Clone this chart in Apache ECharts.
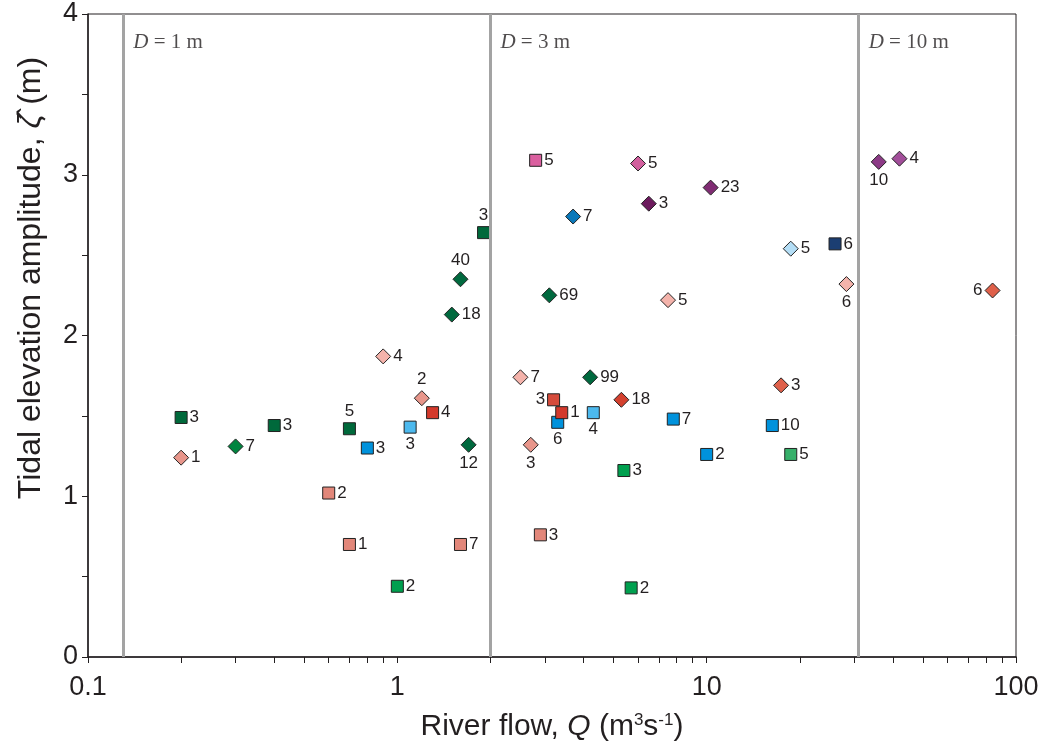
<!DOCTYPE html>
<html>
<head>
<meta charset="utf-8">
<script src="https://cdn.jsdelivr.net/npm/echarts@6/dist/echarts.min.js"></script>
<style>
  html, body { margin: 0; background: #fff; }
  #chart { width: 1047px; height: 750px; }
</style>
</head>
<body>
<div id="chart"></div>
<script>
// river flow Q (m3/s) and tidal amplitude (m) for each site, with its count label and site group
const flowQ = [0.8, 3.3, 7.8, 16.3, 10, 1.1, 4.3, 3.7, 18.7, 26,
  0.2, 0.4, 0.7, 1.9, 1.6, 1.5, 1.7, 3.1, 4.2, 0.3,
  1.0, 5.4, 5.7, 18.7, 0.6, 0.7, 1.6, 2.9, 0.2, 1.2,
  2.7, 0.9, 2.5, 7.5, 28.3, 1.3, 3.2, 3.4, 5.3, 17.4,
  84, 2.8, 6.0, 6.5, 10.3, 36, 42];
const amplitude = [1.30, 1.46, 1.48, 1.44, 1.26, 1.43, 1.52, 2.74, 2.54, 2.57,
  1.49, 1.44, 1.42, 2.64, 2.35, 2.13, 1.32, 2.25, 1.74, 1.31,
  0.44, 1.16, 0.43, 1.26, 1.02, 0.70, 0.70, 0.76, 1.24, 1.61,
  1.32, 1.87, 1.74, 2.22, 2.32, 1.52, 1.60, 1.52, 1.60, 1.69,
  2.28, 3.09, 3.07, 2.82, 2.92, 3.08, 3.10];
const pointLabels = ['3', '6', '7', '10', '2', '3', '4', '7', '5', '6',
  '3', '3', '5', '3', '40', '18', '12', '69', '99', '7',
  '2', '3', '2', '5', '2', '1', '7', '3', '1', '2',
  '3', '4', '7', '5', '6', '4', '3', '1', '18', '3',
  '6', '5', '5', '3', '23', '10', '4'];
const siteGroup = ['blueSq', 'blueSq', 'blueSq', 'blueSq', 'blueSq', 'ltBlueSq', 'ltBlueSq', 'blueDia', 'paleBlueDia', 'navySq',
  'dkGreenSq', 'dkGreenSq', 'dkGreenSq', 'dkGreenSq', 'dkGreenDia', 'dkGreenDia', 'dkGreenDia', 'dkGreenDia', 'dkGreenDia', 'greenDia',
  'greenSq', 'greenSq', 'greenSq', 'ltGreenSq', 'salmonSq', 'salmonSq', 'salmonSq', 'salmonSq', 'salmonDia', 'salmonDia',
  'salmonDia', 'paleSalmonDia', 'paleSalmonDia', 'paleSalmonDia', 'paleSalmonDia', 'redSq', 'redSq2', 'redSq', 'redDia', 'orangeDia',
  'orangeDia', 'pinkSq', 'pinkDia', 'dkPurpleDia', 'purpleDia', 'magentaDia', 'ltMagentaDia'];

// depth zones: boundary flows and depth labels
const depthLineQ = [0.13, 2.0, 31];
const depthValues = ['1', '3', '10'];

// axis ticks
const xTickValues = [0.1, 0.2, 0.3, 0.4, 0.5, 0.6, 0.7, 0.8, 0.9,
  1, 2, 3, 4, 5, 6, 7, 8, 9,
  10, 20, 30, 40, 50, 60, 70, 80, 90, 100];
const xLabelValues = [0.1, 1, 10, 100];

// styles (kept apart from the data)
const groupStyle = {
  blueSq: { symbol: 'rect', color: '#0092dc' },
  ltBlueSq: { symbol: 'rect', color: '#4cb9ee' },
  blueDia: { symbol: 'diamond', color: '#0a78b9' },
  paleBlueDia: { symbol: 'diamond', color: '#b4def6' },
  navySq: { symbol: 'rect', color: '#1b3e72' },
  dkGreenSq: { symbol: 'rect', color: '#00693b' },
  dkGreenDia: { symbol: 'diamond', color: '#00693e' },
  greenDia: { symbol: 'diamond', color: '#00843f' },
  greenSq: { symbol: 'rect', color: '#00a04f' },
  ltGreenSq: { symbol: 'rect', color: '#36b06a' },
  salmonSq: { symbol: 'rect', color: '#e2877a' },
  salmonDia: { symbol: 'diamond', color: '#e8968b' },
  paleSalmonDia: { symbol: 'diamond', color: '#f4b3ab' },
  redSq: { symbol: 'rect', color: '#d3392b' },
  redSq2: { symbol: 'rect', color: '#d64b3b' },
  redDia: { symbol: 'diamond', color: '#d4412f' },
  orangeDia: { symbol: 'diamond', color: '#df604a' },
  pinkSq: { symbol: 'rect', color: '#da5f9f' },
  pinkDia: { symbol: 'diamond', color: '#d2609e' },
  dkPurpleDia: { symbol: 'diamond', color: '#6c1a5d' },
  purpleDia: { symbol: 'diamond', color: '#802c73' },
  magentaDia: { symbol: 'diamond', color: '#8c3a86' },
  ltMagentaDia: { symbol: 'diamond', color: '#a24e9a' }
};
const labelSide = ['right', 'bottom', 'right', 'right', 'right', 'bottom', 'bottom', 'right', 'right', 'right',
  'right', 'right', 'top', 'top', 'top', 'right', 'bottom', 'right', 'right', 'right',
  'right', 'right', 'right', 'right', 'right', 'right', 'right', 'right', 'right', 'top',
  'bottom', 'right', 'right', 'right', 'bottom', 'right', 'left', 'right', 'right', 'right',
  'left', 'right', 'right', 'right', 'right', 'bottom', 'right'];

const ink = '#231f20';
const sans = 'Liberation Sans, Arial, sans-serif';
const serif = 'Liberation Serif, Times New Roman, serif';

let points = [];
for (let i = 0; i < flowQ.length; i++) {
  let st = groupStyle[siteGroup[i]];
  points.push({
    value: [flowQ[i], amplitude[i]],
    symbol: st.symbol,
    symbolSize: st.symbol === 'rect' ? 12 : 15,
    itemStyle: { color: st.color, borderColor: '#222', borderWidth: 1, opacity: 1 },
    label: { show: true, position: labelSide[i], distance: 2, formatter: pointLabels[i] }
  });
}

let zoneLabels = [];
for (let i = 0; i < depthLineQ.length; i++) {
  zoneLabels.push({ value: [depthLineQ[i], 3.82], label: { formatter: '{d|D} = ' + depthValues[i] + ' m' } });
}

let myChart = echarts.init(document.getElementById('chart'));
myChart.setOption({
  animation: false,
  grid: { left: 88, right: 31, top: 14, bottom: 93, show: true, borderColor: ink, borderWidth: 1 },
  xAxis: {
    type: 'log', logBase: 10, min: 0.1, max: 100,
    axisLine: { lineStyle: { color: ink, width: 1.5 } },
    axisTick: { show: true, inside: false, length: 6, customValues: xTickValues, lineStyle: { color: ink } },
    axisLabel: {
      customValues: xLabelValues, margin: 17, fontSize: 27, color: ink, fontFamily: sans,
      formatter: v => String(+(+v).toPrecision(3))
    },
    splitLine: { show: false },
    name: 'River flow, {q|Q} (m{s|3}s{s|-1})',
    nameLocation: 'middle', nameGap: 55,
    nameTextStyle: {
      fontSize: 30, color: ink, fontFamily: sans,
      rich: {
        q: { fontSize: 30, fontStyle: 'italic', color: ink, fontFamily: sans },
        s: { fontSize: 17, color: ink, fontFamily: sans, verticalAlign: 'top' }
      }
    }
  },
  yAxis: {
    type: 'value', min: 0, max: 4, interval: 1,
    axisLine: { show: true, lineStyle: { color: ink, width: 1.5 } },
    axisTick: { show: true, inside: false, length: 6, lineStyle: { color: ink } },
    minorTick: { show: true, splitNumber: 2, length: 6, lineStyle: { color: ink } },
    axisLabel: { margin: 10, fontSize: 27, color: ink, fontFamily: sans },
    splitLine: { show: false }
  },
  graphic: [{
    type: 'text', x: 31, y: 278, rotation: Math.PI / 2,
    style: {
      text: 'Tidal elevation amplitude, {z|ζ̂} (m)',
      fontSize: 32, fontFamily: sans, fill: ink, align: 'center', verticalAlign: 'middle',
      rich: { z: { fontSize: 32, fontStyle: 'italic', fontFamily: sans, fill: ink } }
    }
  }],
  series: [
    {
      name: 'Depth zones', type: 'scatter', symbolSize: 0, silent: true, z: 1,
      data: zoneLabels,
      label: {
        show: true, position: 'right', distance: 10,
        fontSize: 21, color: ink, fontFamily: serif,
        rich: { d: { fontSize: 21, fontStyle: 'italic', color: ink, fontFamily: serif } }
      },
      markLine: {
        silent: true, symbol: 'none', animation: false,
        label: { show: false },
        lineStyle: { color: '#a3a3a3', width: 3, type: 'solid' },
        data: depthLineQ.map(q => ({ xAxis: q }))
      }
    },
    {
      name: 'Sites', type: 'scatter', z: 3,
      data: points,
      label: { fontSize: 17, color: ink, fontFamily: sans }
    }
  ]
});
</script>
</body>
</html>
